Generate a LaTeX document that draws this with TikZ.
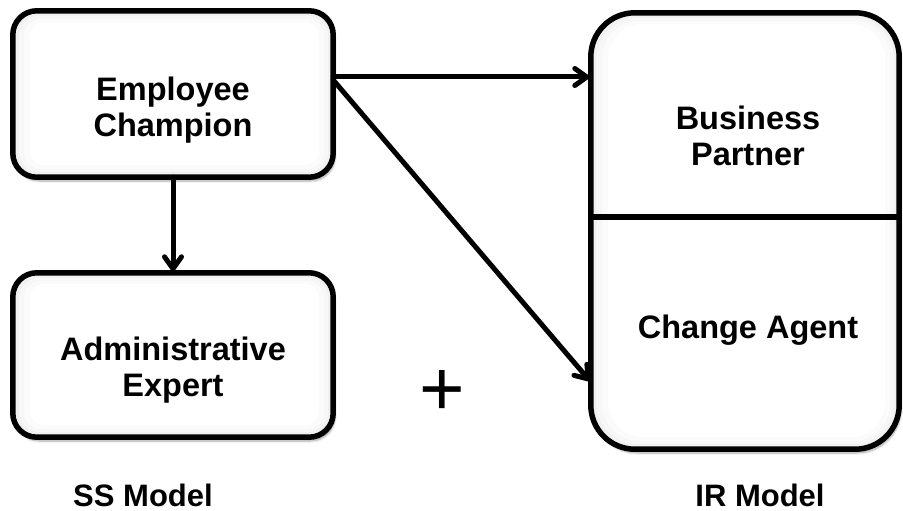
\documentclass[tikz,border=0pt]{standalone}
\usepackage{fontspec}
\setmainfont{Liberation Sans}
\usetikzlibrary{arrows.meta,shadows.blur,calc}
\begin{document}
\begin{tikzpicture}[x=1pt,y=-1pt,
  box/.style={fill=white, rounded corners=24pt,
    blur shadow={shadow xshift=2pt, shadow yshift=-4pt, shadow blur steps=6, shadow opacity=35}},
  outline/.style={draw=black, line width=5.5pt},
  lbl/.style={align=center, font=\fontsize{32.5}{36}\selectfont\bfseries},
  modellbl/.style={anchor=base, font=\fontsize{31}{36}\selectfont\bfseries},
  arr/.style={line width=5pt, line cap=round, shorten >=1.5pt,
    -{Straight Barb[length=12pt,width=17pt,round]}}
]
\useasboundingbox (0,0) rectangle (903,511);
\node[box, minimum width=320pt, minimum height=166pt] (ec) at (173,94) {};
\node[box, minimum width=320pt, minimum height=164pt] (ae) at (173,355) {};
\node[box, rounded corners=44pt, minimum width=308pt, minimum height=436pt] (ir) at (745,231) {};
% soft inner shading and outlines
\foreach \n/\r in {ec/24,ae/24,ir/44}{
  \fill[gray!11, rounded corners=\r pt] (\n.north west) rectangle (\n.south east);
  \fill[gray!6, rounded corners=\r pt-3pt] ($(\n.north west)+(6,5)$) rectangle ($(\n.south east)+(-5,-5)$);
  \fill[gray!3, rounded corners=\r pt-6pt] ($(\n.north west)+(11,8)$) rectangle ($(\n.south east)+(-9,-8)$);
  \fill[white, rounded corners=\r pt-9pt] ($(\n.north west)+(17,11)$) rectangle ($(\n.south east)+(-14,-12)$);
  \draw[outline, rounded corners=\r pt] (\n.north west) rectangle (\n.south east);
}
\draw[outline] (ir.west |- 0,217) -- (ir.east |- 0,217);
\node[lbl] (ect) at (173,110) {Employee\\Champion};
\node[lbl] (aet) at (173,370) {Administrative\\Expert};
\node[lbl] (bp) at (748,136) {Business\\Partner};
\node[lbl] (ca) at (748,330) {Change Agent};
\coordinate (s1) at (ec.east |- 0,77);
\coordinate (s2) at (ec.east |- 0,80);
\draw[arr] (s1) -- (ir.west |- s1);
\draw[arr] (s2) -- (ir.west |- 0,382);
\draw[arr] (ec.south) -- (ae.north);
\node[font=\fontsize{78}{78}\selectfont] (plus) at (442,393) {+};
\node[modellbl] (ss) at (143,506) {SS Model};
\node[modellbl] (irm) at (760,506) {IR Model};
\end{tikzpicture}
\end{document}
